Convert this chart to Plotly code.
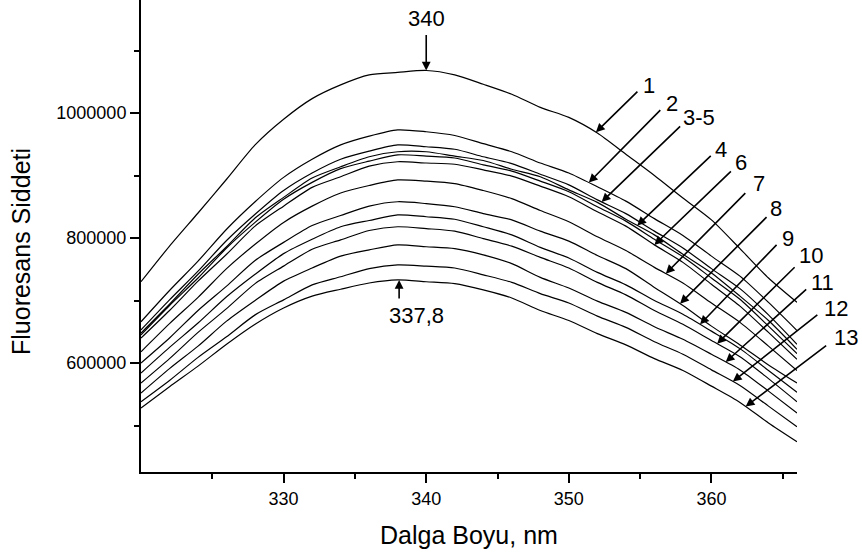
import numpy as np
import plotly.graph_objects as go

# ---------------- data (intensity in thousands of counts) ----------------
wavelength = [320, 322, 324, 326, 328, 330, 332, 334, 336, 338, 340, 342,
              344, 346, 348, 350, 352, 354, 356, 358, 360, 362, 364, 366]

curve_01 = [730, 787, 840, 894, 949, 990, 1023, 1045, 1061, 1065, 1068, 1061, 1046, 1030, 1009, 993, 968, 934, 900, 864, 829, 783, 736, 697]
curve_02 = [666, 716, 763, 814, 858, 897, 926, 949, 963, 973, 970, 964, 951, 938, 920, 904, 882, 859, 831, 804, 771, 739, 697, 652]
curve_03 = [653, 701, 747, 796, 838, 876, 904, 926, 939, 949, 946, 942, 930, 919, 902, 885, 861, 839, 811, 784, 751, 719, 677, 630]
curve_04 = [648, 694, 742, 786, 832, 865, 896, 914, 930, 938, 938, 931, 924, 910, 898, 877, 857, 830, 805, 774, 744, 707, 668, 622]
curve_05 = [645, 692, 736, 784, 825, 862, 889, 911, 923, 933, 931, 928, 917, 907, 891, 874, 850, 827, 798, 770, 736, 702, 659, 615]
curve_06 = [640, 684, 731, 774, 819, 851, 881, 898, 915, 922, 920, 918, 909, 899, 883, 866, 842, 819, 789, 761, 726, 691, 649, 606]
curve_07 = [618, 663, 705, 751, 790, 825, 851, 872, 884, 893, 891, 887, 876, 863, 844, 826, 802, 780, 753, 728, 696, 665, 627, 588]
curve_08 = [600, 640, 684, 723, 764, 793, 820, 836, 851, 858, 855, 850, 839, 829, 811, 795, 772, 751, 721, 692, 659, 629, 597, 568]
curve_09 = [584, 625, 664, 706, 742, 775, 798, 818, 828, 837, 834, 830, 818, 805, 785, 768, 745, 725, 700, 678, 651, 623, 588, 553]
curve_10 = [568, 607, 649, 687, 727, 755, 782, 797, 812, 818, 815, 811, 799, 787, 769, 752, 729, 709, 684, 662, 636, 610, 575, 538]
curve_11 = [552, 591, 627, 667, 700, 731, 752, 771, 781, 789, 786, 783, 773, 759, 737, 720, 699, 681, 658, 638, 614, 589, 555, 520]
curve_12 = [538, 572, 609, 642, 677, 701, 725, 738, 751, 757, 755, 752, 741, 729, 711, 696, 675, 657, 634, 614, 589, 564, 531, 498]
curve_13 = [528, 562, 595, 630, 662, 688, 707, 718, 728, 733, 730, 727, 717, 704, 684, 668, 647, 629, 607, 588, 563, 537, 504, 474]

curves = [curve_01, curve_02, curve_03, curve_04, curve_05, curve_06, curve_07,
          curve_08, curve_09, curve_10, curve_11, curve_12, curve_13]

# arrow labels, which curve they point to, and the wavelength of the arrow tip
arrow_labels = ["1", "2", "3-5", "4", "6", "7", "8", "9", "10", "11", "12", "13"]
arrow_curve = [0, 1, 2, 3, 5, 6, 7, 8, 9, 10, 11, 12]
arrow_nm = [351.9, 351.4, 352.3, 354.8, 356.0, 356.8, 357.8, 359.2, 360.4, 361.0, 361.5, 362.4]

peak_labels = ["340", "337,8"]
peak_curve = [0, 12]
peak_nm = [340.0, 338.1]

x_tickvals = [330, 340, 350, 360]
x_minorvals = [325, 335, 345, 355, 365]
y_tickvals = [600000, 800000, 1000000]
y_minorvals = [500000, 700000, 900000, 1100000]

# ---------------- layout / style (pixels) ----------------
FONT = "Liberation Sans, Arial, sans-serif"
arrow_tail = [(43, -42), (73, -74), (80, -77), (75, -71), (78, -75), (81, -82),
              (88, -88), (78, -81), (79, -78), (82, -74), (86, -68), (82, -62)]
label_off = [(10, -5), (10, -5), (17, -7), (9, -5), (9, -7), (12, -8),
             (8, -7), (10, -5), (15, -10), (15, -6), (17, -5), (18, -7)]
peak_tail = [(0, -37), (0, 20)]
peak_label_off = [(0, -15), (17, 16)]

fig = go.Figure()
for i, c in enumerate(curves):
    fig.add_trace(go.Scatter(
        x=wavelength, y=np.array(c) * 1000, mode="lines",
        line=dict(color="black", width=1.2, shape="spline", smoothing=0.7),
        name=str(i + 1), showlegend=False, hoverinfo="skip"))

annotations = []


def add_arrow(nm, ci, tail, label, loff):
    yv = float(np.interp(nm, wavelength, np.array(curves[ci]) * 1000))
    annotations.append(dict(
        x=nm, y=yv, xref="x", yref="y", text="", showarrow=True,
        ax=tail[0], ay=tail[1], arrowhead=2, arrowsize=1.1, arrowwidth=1.6,
        arrowcolor="black"))
    annotations.append(dict(
        x=nm, y=yv, xref="x", yref="y", text=label, showarrow=False,
        xshift=tail[0] + loff[0], yshift=-(tail[1] + loff[1]),
        xanchor="center", yanchor="middle",
        font=dict(family=FONT, size=22, color="black")))


for lab, ci, nm, tl, lo in zip(arrow_labels, arrow_curve, arrow_nm, arrow_tail, label_off):
    add_arrow(nm, ci, tl, lab, lo)
for lab, ci, nm, tl, lo in zip(peak_labels, peak_curve, peak_nm, peak_tail, peak_label_off):
    add_arrow(nm, ci, tl, lab, lo)

# axis titles
annotations.append(dict(
    text="Fluoresans Siddeti", textangle=-90, xref="paper", yref="paper",
    x=0, y=(472 - 252) / 472, xshift=-120, showarrow=False,
    xanchor="center", yanchor="middle",
    font=dict(family=FONT, size=25, color="black")))
annotations.append(dict(
    text="Dalga Boyu, nm", xref="paper", yref="paper",
    x=0.5, y=0, yshift=-63, showarrow=False,
    xanchor="center", yanchor="middle",
    font=dict(family=FONT, size=25, color="black")))

fig.update_layout(
    width=862, height=557,
    margin=dict(l=141, r=65, t=0, b=85),
    paper_bgcolor="white", plot_bgcolor="white",
    annotations=annotations,
    font=dict(family=FONT, color="black"),
)
fig.update_xaxes(
    range=[320, 366], showgrid=False, zeroline=False,
    showline=True, linecolor="black", linewidth=2,
    ticks="outside", ticklen=9, tickwidth=2, tickcolor="black",
    tickvals=x_tickvals, tickfont=dict(family=FONT, size=18, color="black"),
    minor=dict(tickvals=x_minorvals, ticks="outside", ticklen=5, tickwidth=1.5, tickcolor="black"),
)
fig.update_yaxes(
    range=[425600, 1180800], showgrid=False, zeroline=False,
    showline=True, linecolor="black", linewidth=2,
    ticks="outside", ticklen=9, tickwidth=2, tickcolor="black",
    tickvals=y_tickvals, tickformat="d",
    tickfont=dict(family=FONT, size=18, color="black"),
    minor=dict(tickvals=y_minorvals, ticks="outside", ticklen=5, tickwidth=1.5, tickcolor="black"),
)

fig.write_html("out.html")
